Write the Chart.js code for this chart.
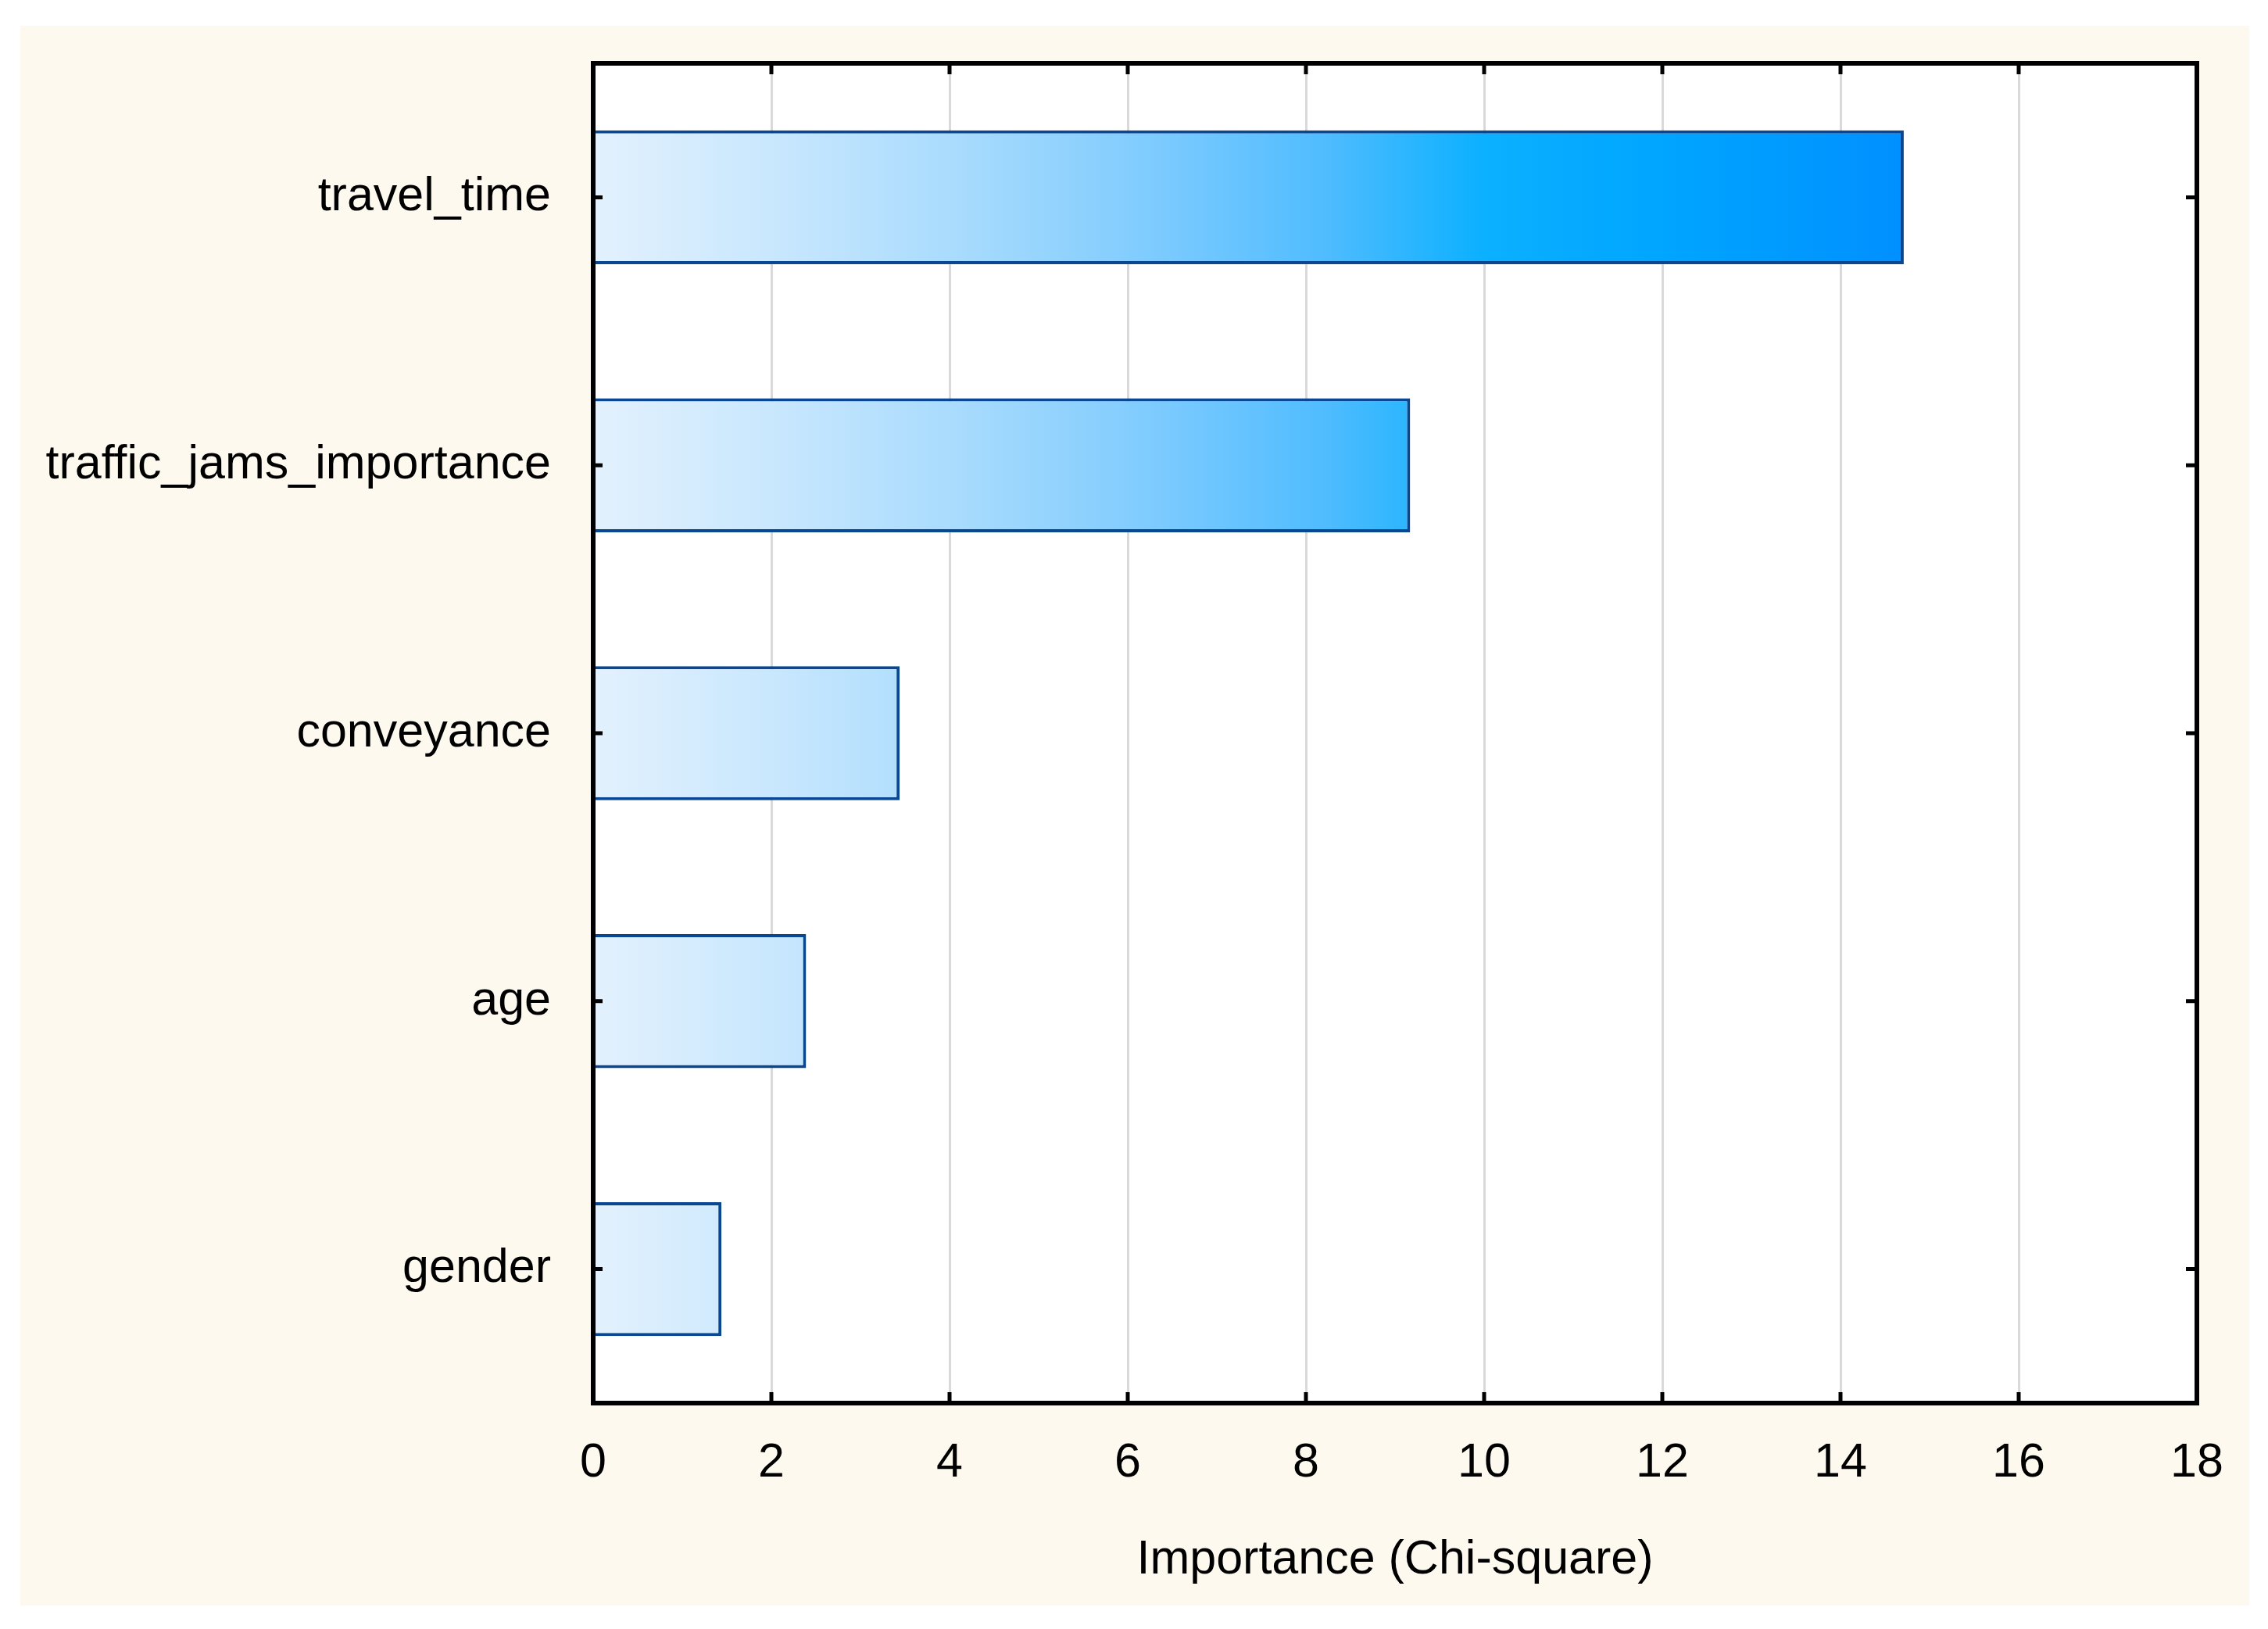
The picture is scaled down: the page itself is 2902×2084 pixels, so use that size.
<!DOCTYPE html>
<html>
<head>
<meta charset="utf-8">
<script src="https://cdn.jsdelivr.net/npm/chart.js@4"></script>
<style>
  html, body { margin: 0; padding: 0; background: #ffffff; }
  #wrap { width: 2902px; height: 2084px; }
</style>
</head>
<body>
<div id="wrap"><canvas id="c" width="2902" height="2084"></canvas></div>
<script>
const categories = ['travel_time', 'traffic_jams_importance', 'conveyance', 'age', 'gender'];
const importance = [14.71, 9.17, 3.44, 2.39, 1.44];
const xMin = 0;
const xMax = 18;
const xStep = 2;
const axisTitle = 'Importance (Chi-square)';

const FONT = "'Liberation Sans', Arial, sans-serif";

const gradientStops = [
  [0.00, '#E3F1FD'],
  [0.14, '#C8E7FD'],
  [0.28, '#A8DBFD'],
  [0.42, '#80CCFE'],
  [0.56, '#4FBCFE'],
  [0.68, '#0BB0FF'],
  [0.82, '#00A5FF'],
  [1.00, '#0090FF']
];

function barFill(context) {
  const chart = context.chart;
  const area = chart.chartArea;
  if (!area) return '#80CCFE';
  const xs = chart.scales.x;
  const x0 = xs.getPixelForValue(0);
  const x1 = xs.getPixelForValue(Math.max(...importance));
  const g = chart.ctx.createLinearGradient(x0, 0, x1, 0);
  gradientStops.forEach(s => g.addColorStop(s[0], s[1]));
  return g;
}

const backgroundPlugin = {
  id: 'bgPlugin',
  beforeDraw(chart) {
    const ctx = chart.ctx;
    const a = chart.chartArea;
    ctx.save();
    ctx.fillStyle = '#ffffff';
    ctx.fillRect(0, 0, chart.width, chart.height);
    ctx.fillStyle = '#FEF9EF';
    ctx.fillRect(26, 33, 2852, 2021);
    ctx.fillStyle = '#ffffff';
    ctx.fillRect(a.left, a.top, a.right - a.left, a.bottom - a.top);
    ctx.restore();
  }
};

const framePlugin = {
  id: 'framePlugin',
  afterDatasetsDraw(chart) {
    const ctx = chart.ctx;
    const a = chart.chartArea;
    const xs = chart.scales.x;
    const ys = chart.scales.y;
    ctx.save();
    ctx.strokeStyle = '#000000';
    ctx.lineWidth = 5;
    for (let v = xMin + xStep; v < xMax; v += xStep) {
      const px = xs.getPixelForValue(v);
      ctx.beginPath();
      ctx.moveTo(px, a.top); ctx.lineTo(px, a.top + 14);
      ctx.moveTo(px, a.bottom); ctx.lineTo(px, a.bottom - 14);
      ctx.stroke();
    }
    categories.forEach((c, i) => {
      const py = ys.getPixelForValue(i);
      ctx.beginPath();
      ctx.moveTo(a.left, py); ctx.lineTo(a.left + 12, py);
      ctx.moveTo(a.right, py); ctx.lineTo(a.right - 14, py);
      ctx.stroke();
    });
    ctx.lineWidth = 6;
    ctx.strokeRect(a.left, a.top, a.right - a.left, a.bottom - a.top);
    ctx.restore();
  }
};

new Chart(document.getElementById('c'), {
  type: 'bar',
  data: {
    labels: categories,
    datasets: [{
      label: 'Importance',
      data: importance,
      backgroundColor: barFill,
      borderColor: '#0A4793',
      borderWidth: 4,
      borderSkipped: 'start',
      categoryPercentage: 1.0,
      barPercentage: 0.5
    }]
  },
  plugins: [backgroundPlugin, framePlugin],
  options: {
    indexAxis: 'y',
    responsive: false,
    maintainAspectRatio: false,
    devicePixelRatio: 1,
    animation: false,
    layout: { padding: { left: 0, right: 91, top: 81, bottom: 0 } },
    plugins: {
      legend: { display: false },
      tooltip: { enabled: false },
      title: { display: false }
    },
    scales: {
      x: {
        type: 'linear',
        min: xMin,
        max: xMax,
        afterFit(scale) { scale.height = 2084 - 1795; scale.paddingLeft = 0; scale.paddingRight = 0; },
        ticks: {
          stepSize: xStep,
          color: '#000000',
          padding: 41,
          font: { family: FONT, size: 61 }
        },
        grid: {
          display: true,
          color: '#D9D9D9',
          lineWidth: 3,
          drawTicks: false
        },
        border: { display: false },
        title: {
          display: true,
          text: axisTitle,
          color: '#000000',
          font: { family: FONT, size: 61 },
          padding: { top: 0, bottom: 51 }
        }
      },
      y: {
        type: 'category',
        afterFit(scale) { scale.width = 759; scale.paddingTop = 0; scale.paddingBottom = 0; },
        ticks: {
          color: '#000000',
          padding: 54,
          font: { family: FONT, size: 61 }
        },
        grid: { display: false, drawTicks: false },
        border: { display: false }
      }
    }
  }
});
</script>
</body>
</html>
